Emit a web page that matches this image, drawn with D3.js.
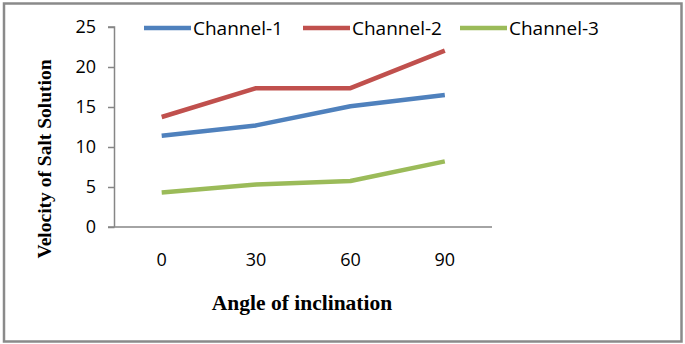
<!DOCTYPE html>
<html><head><meta charset="utf-8">
<script src="https://cdn.jsdelivr.net/npm/d3@7"></script>
<style>body{margin:0;background:#fff}svg{display:block}</style>
</head><body>
<svg id="c" width="685" height="344"></svg>
<script>
const categories = ["0", "30", "60", "90"];
const seriesNames = ["Channel-1", "Channel-2", "Channel-3"];
const channel1 = [11.4, 12.7, 15.1, 16.5];
const channel2 = [13.75, 17.35, 17.35, 22.05];
const channel3 = [4.3, 5.3, 5.75, 8.2];
const yTicks = [0, 5, 10, 15, 20, 25];
const colors = ["#4F81BD", "#C0504D", "#9BBB59"];
const series = [channel1, channel2, channel3];

const svg = d3.select("#c");
const m = {left: 114.5, right: 492, top: 27, bottom: 227};

svg.append("rect").attr("x", 4).attr("y", 3.5).attr("width", 677.5).attr("height", 338)
  .attr("fill", "#fff").attr("stroke", "#8a8a8a").attr("stroke-width", 2.5);

const x = d3.scaleBand().domain(categories).range([m.left, m.right]);
const y = d3.scaleLinear().domain([0, 25]).range([m.bottom, m.top]);

const sans = "'Open Sans', sans-serif";
const serif = "'Liberation Serif', 'Times New Roman', serif";

// y axis
const yAxis = svg.append("g").attr("transform", `translate(${m.left},0)`)
  .call(d3.axisLeft(y).tickValues(yTicks).tickSize(6.5).tickPadding(12).tickFormat(d3.format("d")));
yAxis.selectAll("path,line").attr("stroke", "#868686").attr("stroke-width", 1.5);
yAxis.select("path").attr("d", `M-6.5,${m.top}H0V${m.bottom}`);
yAxis.selectAll("text").attr("font-family", sans).attr("font-size", 18).attr("fill", "#000");

// x axis
const xAxis = svg.append("g").attr("transform", `translate(0,${m.bottom})`)
  .call(d3.axisBottom(x).tickSize(0).tickPadding(26));
xAxis.select("path").attr("stroke", "#868686").attr("stroke-width", 1.5)
  .attr("d", `M${m.left - 6.5},0H${m.right}`);
xAxis.selectAll("text").attr("font-family", sans).attr("font-size", 18).attr("fill", "#000");

// lines
const line = d3.line().x((d, i) => x(categories[i]) + x.bandwidth() / 2).y(d => y(d));
series.forEach((s, k) => {
  svg.append("path").datum(s).attr("d", line).attr("fill", "none")
    .attr("stroke", colors[k]).attr("stroke-width", 4.5).attr("stroke-linejoin", "round");
});

// legend
const legX = [144, 303, 460];
seriesNames.forEach((n, k) => {
  svg.append("line").attr("x1", legX[k]).attr("x2", legX[k] + 47).attr("y1", 28).attr("y2", 28)
    .attr("stroke", colors[k]).attr("stroke-width", 4.5);
  svg.append("text").attr("x", legX[k] + 49).attr("y", 28).attr("dy", "0.35em")
    .attr("font-family", sans).attr("font-size", 19).attr("fill", "#000").text(n);
});

// axis titles
svg.append("text").attr("x", 302).attr("y", 310).attr("text-anchor", "middle")
  .attr("font-family", serif).attr("font-weight", "bold").attr("font-size", 21.5).text("Angle of inclination");
svg.append("text").attr("transform", "translate(51,159) rotate(-90)").attr("text-anchor", "middle")
  .attr("font-family", serif).attr("font-weight", "bold").attr("font-size", 19.5).text("Velocity of Salt Solution");
</script>
</body></html>
